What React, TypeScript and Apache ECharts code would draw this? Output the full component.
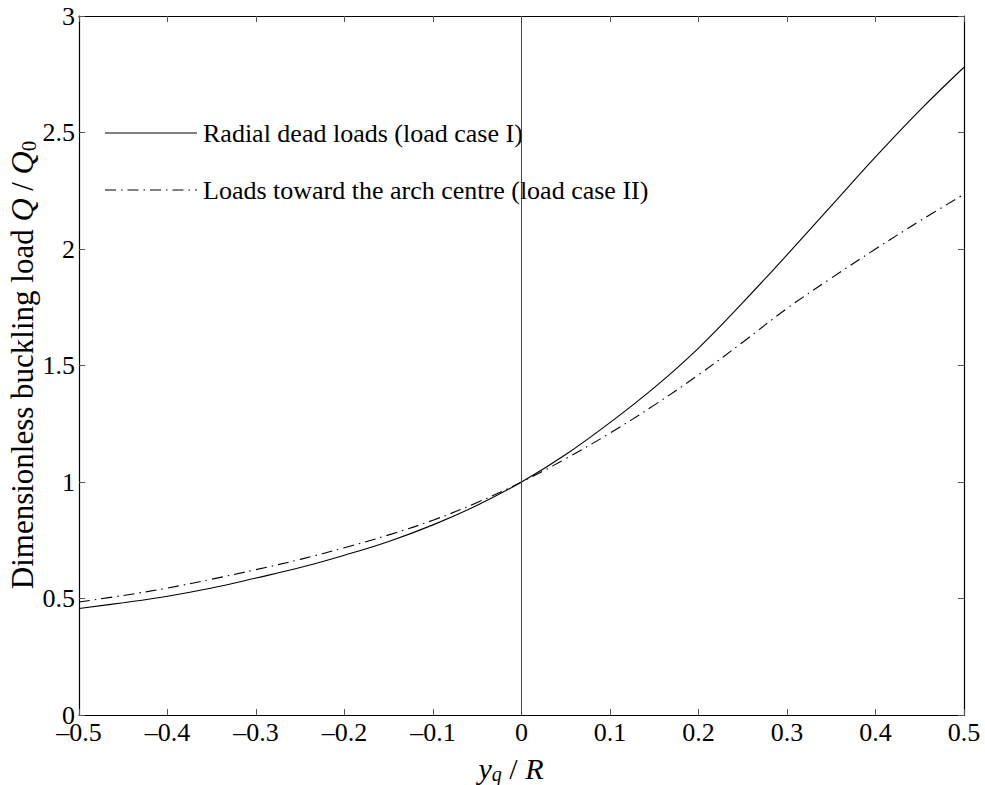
import React, { useEffect, useRef } from "react";
import * as echarts from "echarts";

const xValues = [-0.5, -0.45, -0.4, -0.35, -0.3, -0.25, -0.2, -0.15, -0.1, -0.05, 0, 0.05, 0.1, 0.15, 0.2, 0.25, 0.3, 0.35, 0.4, 0.45, 0.5];
const radialDead = [0.457, 0.482, 0.51, 0.545, 0.588, 0.633, 0.686, 0.745, 0.816, 0.9, 1.0, 1.118, 1.255, 1.405, 1.575, 1.77, 1.975, 2.185, 2.395, 2.595, 2.78];
const towardCentre = [0.485, 0.513, 0.545, 0.583, 0.624, 0.668, 0.718, 0.773, 0.836, 0.912, 1.0, 1.1, 1.21, 1.33, 1.46, 1.6, 1.745, 1.875, 2.0, 2.12, 2.235];
const seriesNames = ["Radial dead loads (load case I)", "Loads toward the arch centre (load case II)"];

const FONT = "'Liberation Serif', 'DejaVu Serif', serif";
const DASHDOT = [11, 5, 1.5, 5];

export default function App() {
  const ref = useRef<HTMLDivElement>(null);
  useEffect(() => {
    if (!ref.current) return;
    const chart = echarts.init(ref.current, undefined, { renderer: "svg" });
    const fmt = (v: number) => {
      const s = Number(v.toFixed(2)).toString();
      return s.replace("-", "\u2013");
    };
    const axisCommon = {
      axisLine: { show: true, onZero: false, lineStyle: { color: "#000", width: 1.2 } },
      axisTick: { show: true, inside: true, length: 6, lineStyle: { color: "#555" } },
      splitLine: { show: false },
    };
    const legendY = [133, 190];
    const legendGraphics: any[] = [];
    seriesNames.forEach((name, i) => {
      legendGraphics.push({
        type: "line",
        shape: { x1: 105, y1: legendY[i], x2: 197, y2: legendY[i] },
        style: { stroke: "#000", lineWidth: 1.1, lineDash: i === 0 ? null : DASHDOT },
      });
      legendGraphics.push({
        type: "text",
        x: 203,
        y: legendY[i],
        style: { text: name, fontFamily: FONT, fontSize: 26, fill: "#000", align: "left", verticalAlign: "middle" },
      });
    });
    chart.setOption({
      animation: false,
      backgroundColor: "#fff",
      grid: { left: 79, right: 21, top: 16, bottom: 70, containLabel: false },
      xAxis: [
        {
          type: "value", min: -0.5, max: 0.5, interval: 0.1, position: "bottom",
          ...axisCommon,
          axisLabel: { formatter: fmt, fontFamily: FONT, fontSize: 26, color: "#000", margin: 4 },
        },
        {
          type: "value", min: -0.5, max: 0.5, interval: 0.1, position: "top",
          ...axisCommon,
          axisLabel: { show: false },
        },
      ],
      yAxis: [
        {
          type: "value", min: 0, max: 3, interval: 0.5, position: "left",
          ...axisCommon,
          axisLabel: { formatter: fmt, fontFamily: FONT, fontSize: 26, color: "#000", margin: 4 },
        },
        {
          type: "value", min: 0, max: 3, interval: 0.5, position: "right",
          ...axisCommon,
          axisLabel: { show: false },
        },
      ],
      series: [
        {
          name: seriesNames[0],
          type: "line",
          smooth: 0.4,
          symbol: "none",
          data: xValues.map((x, i) => [x, radialDead[i]]),
          lineStyle: { color: "#000", width: 1.1, type: "solid" },
          itemStyle: { color: "#000" },
          markLine: {
            silent: true,
            symbol: ["none", "none"],
            label: { show: false },
            lineStyle: { color: "#444", width: 1, type: "solid" },
            data: [{ xAxis: 0 }],
          },
        },
        {
          name: seriesNames[1],
          type: "line",
          smooth: 0.4,
          symbol: "none",
          data: xValues.map((x, i) => [x, towardCentre[i]]),
          lineStyle: { color: "#000", width: 1.1, type: DASHDOT },
          itemStyle: { color: "#000" },
        },
      ],
      graphic: [
        ...legendGraphics,
        {
          type: "text",
          x: 511,
          y: 768,
          style: {
            text: "{i|y}{s|q}{n| / }{i|R}",
            align: "center",
            verticalAlign: "middle",
            rich: {
              i: { fontFamily: FONT, fontSize: 30, fontStyle: "italic", fill: "#000", lineHeight: 32, verticalAlign: "middle" },
              n: { fontFamily: FONT, fontSize: 30, fill: "#000", lineHeight: 32, verticalAlign: "middle" },
              s: { fontFamily: FONT, fontSize: 20, fontStyle: "italic", fill: "#000", lineHeight: 32, verticalAlign: "bottom", padding: [8, 0, 0, 0] },
            },
          },
        },
        {
          type: "text",
          x: 22,
          y: 365,
          rotation: Math.PI / 2,
          style: {
            text: "{n|Dimensionless buckling load }{i|Q}{n| / }{i|Q}{s|0}",
            align: "center",
            verticalAlign: "middle",
            rich: {
              i: { fontFamily: FONT, fontSize: 32, fontStyle: "italic", fill: "#000", lineHeight: 34, verticalAlign: "middle" },
              n: { fontFamily: FONT, fontSize: 31, fill: "#000", lineHeight: 34, verticalAlign: "middle" },
              s: { fontFamily: FONT, fontSize: 21, fill: "#000", lineHeight: 34, verticalAlign: "bottom", padding: [10, 0, 0, 0] },
            },
          },
        },
      ],
    });
    return () => chart.dispose();
  }, []);
  return <div ref={ref} style={{ width: 985, height: 785, position: "absolute", left: 0, top: 0 }} />;
}
